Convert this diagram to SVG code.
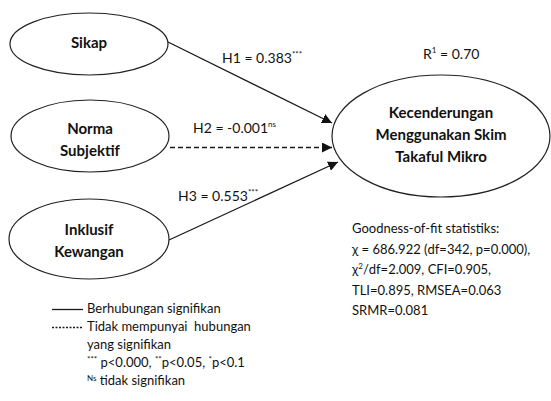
<svg xmlns="http://www.w3.org/2000/svg" width="551" height="401" viewBox="0 0 551 401">
<style>
text{font-family:Lato,"Open Sans","Liberation Sans",sans-serif;fill:#111}
.n{font-weight:bold;font-size:15px;text-anchor:middle}
.l{font-size:14px}
.s{font-size:13px}
.e{fill:#fff;stroke:#222;stroke-width:1.2}
.c{stroke:#1a1a1a;stroke-width:1.3;fill:none}
</style>
<defs>
<marker id="a" viewBox="0 0 10 10" refX="10" refY="5" markerWidth="10" markerHeight="10" markerUnits="userSpaceOnUse" orient="auto">
<path d="M0,0 L10,5 L0,10 z" fill="#111"/>
</marker>
</defs>
<rect width="551" height="401" fill="#fff"/>
<g id="connectors">
<line class="c" x1="168" y1="42" x2="332" y2="123" marker-end="url(#a)"/>
<line class="c" x1="170" y1="147.5" x2="332" y2="147.5" stroke-dasharray="5,3" marker-end="url(#a)"/>
<line class="c" x1="169" y1="240" x2="338" y2="162" marker-end="url(#a)"/>
</g>
<g id="sikap"><ellipse class="e" cx="89" cy="44" rx="79" ry="31"/><text class="n" x="89" y="48">Sikap</text></g>
<g id="norma"><ellipse class="e" cx="90" cy="136" rx="79" ry="36"/><text class="n" x="90" y="134">Norma</text><text class="n" x="90" y="156">Subjektif</text></g>
<g id="inklusif"><ellipse class="e" cx="89" cy="239" rx="80" ry="40"/><text class="n" x="89" y="235">Inklusif</text><text class="n" x="89" y="257">Kewangan</text></g>
<g id="target"><ellipse class="e" cx="441" cy="136" rx="109" ry="61"/><text class="n" x="441" y="118">Kecenderungan</text><text class="n" x="441" y="140">Menggunakan Skim</text><text class="n" x="441" y="162">Takaful Mikro</text></g>
<g id="labels">
<text class="l" x="222" y="63">H1 = 0.383<tspan font-size="8" dy="-6">***</tspan></text>
<text class="l" x="193" y="133">H2 = -0.001<tspan font-size="8" dy="-6">ns</tspan></text>
<text class="l" x="178" y="201">H3 = 0.553<tspan font-size="8" dy="-6">***</tspan></text>
<text class="l" x="423" y="59">R<tspan font-size="8" dy="-6">1</tspan><tspan dy="6"> = 0.70</tspan></text>
</g>
<g id="stats">
<text class="s" x="352" y="233">Goodness-of-fit statistiks:</text>
<text class="s" x="352" y="254">χ = 686.922 (df=342, p=0.000),</text>
<text class="s" x="352" y="274">χ<tspan font-size="8" dy="-5">2</tspan><tspan dy="5">/df=2.009, CFI=0.905,</tspan></text>
<text class="s" x="352" y="295">TLI=0.895, RMSEA=0.063</text>
<text class="s" x="352" y="315">SRMR=0.081</text>
</g>
<g id="legend">
<line class="c" x1="52" y1="309.5" x2="83" y2="309.5"/>
<line class="c" x1="52" y1="327.5" x2="83" y2="327.5" stroke-dasharray="2,1.5"/>
<text class="s" x="87" y="313">Berhubungan signifikan</text>
<text class="s" x="87" y="331" xml:space="preserve">Tidak mempunyai  hubungan</text>
<text class="s" x="87" y="349">yang signifikan</text>
<text class="s" x="87" y="367"><tspan font-size="8" dy="-5">***</tspan><tspan dy="5"> p&lt;0.000, </tspan><tspan font-size="8" dy="-5">**</tspan><tspan dy="5">p&lt;0.05, </tspan><tspan font-size="8" dy="-5">*</tspan><tspan dy="5">p&lt;0.1</tspan></text>
<text class="s" x="87" y="385"><tspan font-size="8" dy="-4">Ns</tspan><tspan dy="4"> tidak signifikan</tspan></text>
</g>
</svg>
